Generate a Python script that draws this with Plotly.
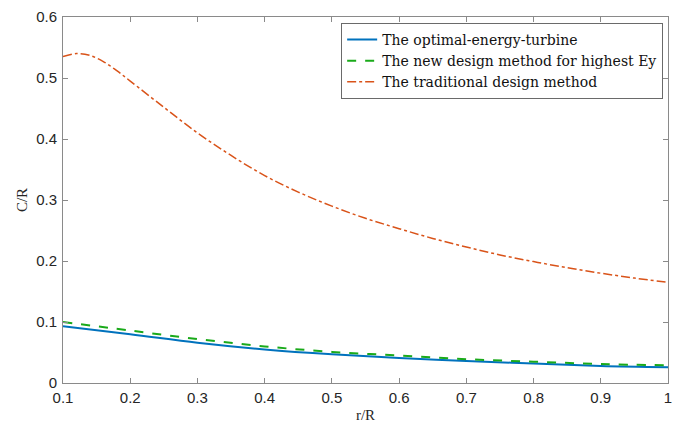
import plotly.graph_objects as go

r_main = [0.1, 0.2, 0.3, 0.4, 0.5, 0.6, 0.7, 0.8, 0.9, 1.0]
c_optimal = [0.093, 0.080, 0.066, 0.055, 0.047, 0.041, 0.036, 0.032, 0.028, 0.026]
c_new = [0.100, 0.086, 0.072, 0.060, 0.051, 0.045, 0.039, 0.035, 0.031, 0.029]

r_trad = [0.1, 0.12, 0.14, 0.16, 0.18, 0.2, 0.25, 0.3, 0.35, 0.4, 0.45, 0.5,
          0.55, 0.6, 0.65, 0.7, 0.75, 0.8, 0.85, 0.9, 0.95, 1.0]
c_trad = [0.535, 0.540, 0.537, 0.527, 0.512, 0.495, 0.452, 0.410, 0.373, 0.340,
          0.313, 0.290, 0.270, 0.253, 0.237, 0.223, 0.210, 0.199, 0.189, 0.180,
          0.172, 0.165]

x_ticks = [0.1, 0.2, 0.3, 0.4, 0.5, 0.6, 0.7, 0.8, 0.9, 1.0]
x_labels = ["0.1", "0.2", "0.3", "0.4", "0.5", "0.6", "0.7", "0.8", "0.9", "1"]
y_ticks = [0, 0.1, 0.2, 0.3, 0.4, 0.5, 0.6]
y_labels = ["0", "0.1", "0.2", "0.3", "0.4", "0.5", "0.6"]

serif = "Liberation Serif, DejaVu Serif, serif"
legend_serif = "DejaVu Serif, Liberation Serif, serif"
sans = "Liberation Sans, Arial, sans-serif"

fig = go.Figure()
fig.add_trace(go.Scatter(x=r_main, y=c_optimal, mode="lines", line_shape="spline",
                         name="The optimal-energy-turbine",
                         line=dict(color="#0072BD", width=2)))
fig.add_trace(go.Scatter(x=r_main, y=c_new, mode="lines", line_shape="spline",
                         name="The new design method for highest Ey",
                         line=dict(color="#1AAA1A", width=2, dash="dash")))
fig.add_trace(go.Scatter(x=r_trad, y=c_trad, mode="lines", line_shape="spline",
                         name="The traditional design method",
                         line=dict(color="#D95319", width=1.5, dash="dashdot")))

axis_common = dict(showline=True, linecolor="#8a8a8a", linewidth=1, mirror="ticks",
                   ticks="inside", ticklen=5, tickcolor="#8a8a8a", showgrid=False,
                   zeroline=False, automargin=False,
                   tickfont=dict(family=sans, size=15, color="#262626"))

fig.update_layout(
    width=683, height=423,
    margin=dict(l=63, r=15, t=17, b=40),
    plot_bgcolor="white", paper_bgcolor="white",
    xaxis=dict(range=[0.1, 1.0], tickvals=x_ticks, ticktext=x_labels, ticklabelstandoff=1,
               title=dict(text="r/R", font=dict(family=serif, size=15, color="#262626"), standoff=8),
               **axis_common),
    yaxis=dict(range=[0, 0.6], tickvals=y_ticks, ticktext=y_labels, ticklabelstandoff=2,
               title=dict(text="C/R", font=dict(family=serif, size=15, color="#262626"), standoff=4),
               **axis_common),
    legend=dict(x=0.992, y=0.984, xanchor="right", yanchor="top",
                bgcolor="white", bordercolor="#6a6a6a", borderwidth=1,
                font=dict(family=legend_serif, size=14, color="#111111"),
                tracegroupgap=0, itemwidth=30),
    showlegend=True,
)

fig.write_html("out.html")
